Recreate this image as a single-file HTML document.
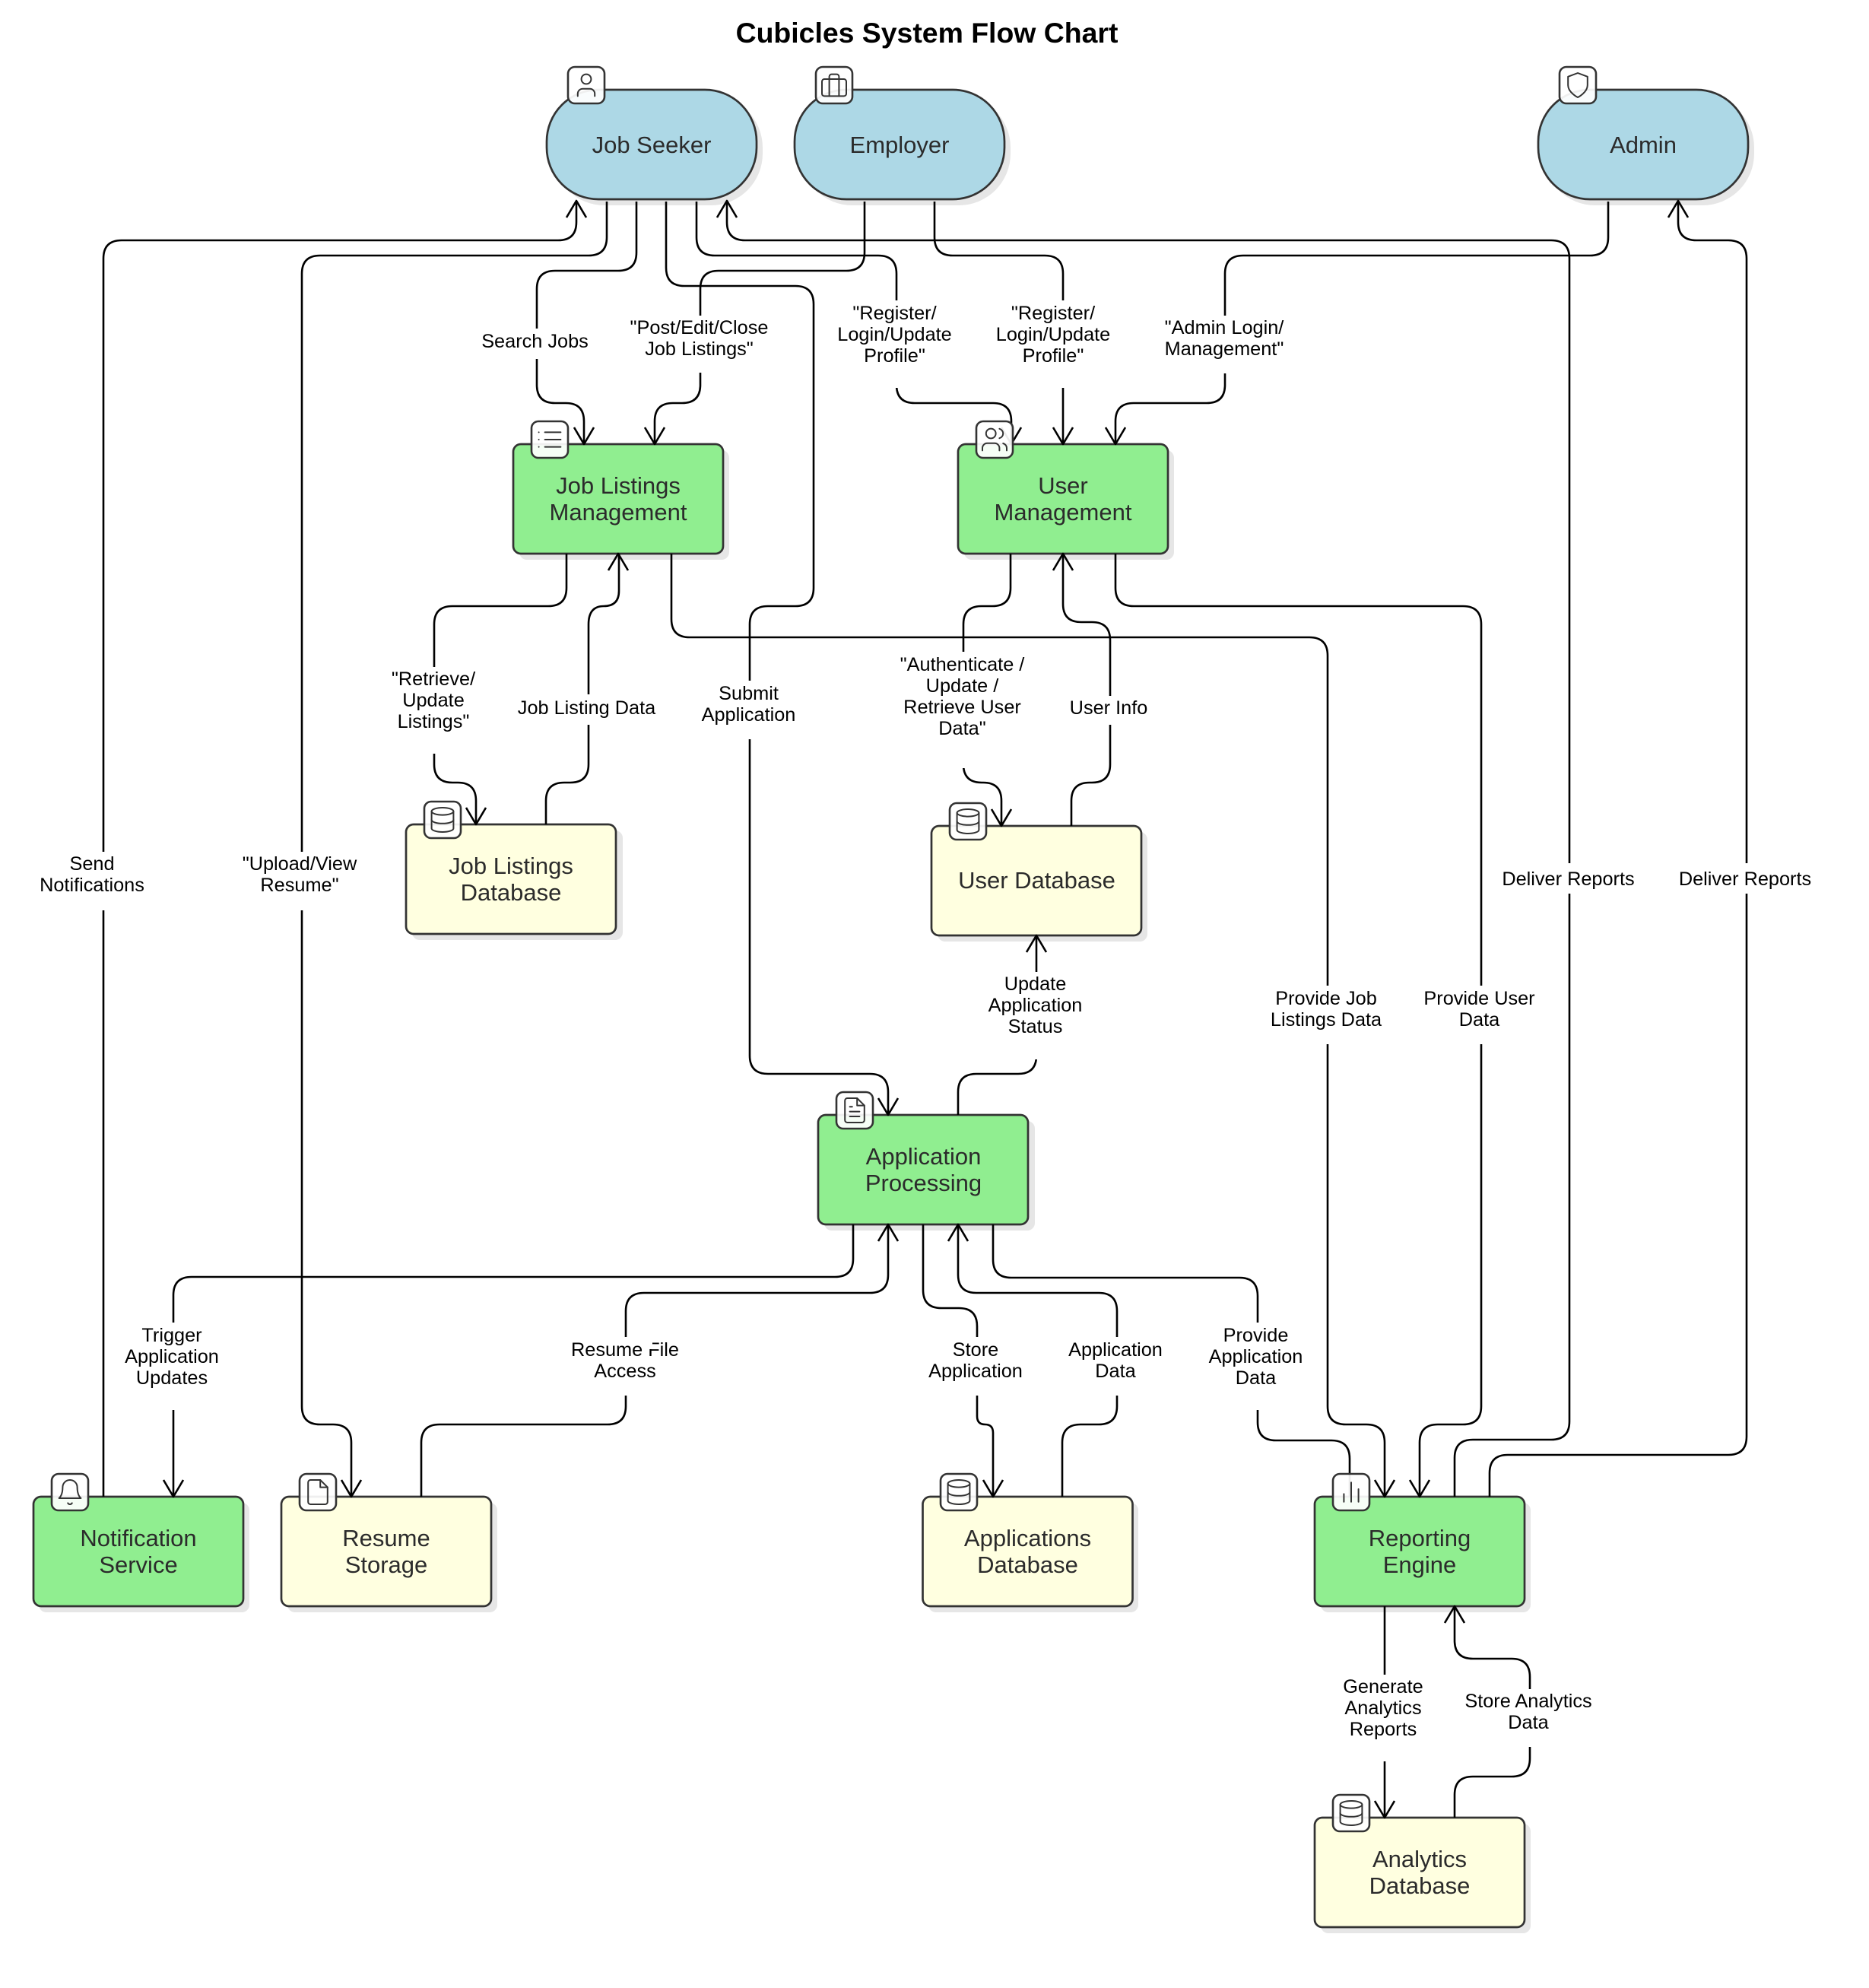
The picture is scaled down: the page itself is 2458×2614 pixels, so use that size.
<!DOCTYPE html>
<html lang="en"><head><meta charset="utf-8"><title>Cubicles System Flow Chart</title>
<style>html,body{margin:0;padding:0;background:#fff}svg{display:block}
.e{fill:none;stroke:#000;stroke-width:2.6;stroke-linejoin:round}
.sh{fill:#e6e6e6}.n{stroke:#333;stroke-width:2.7}.b{fill:#90EE90}.y{fill:#FFFFE0}.a{fill:#ADD8E6}
.nt{font:31px "Liberation Sans",sans-serif;fill:#2b2b2b;text-anchor:middle}
.l{font:25.300px "Liberation Sans",sans-serif;fill:#000;text-anchor:middle}
.ib{fill:#fff;fill-opacity:.92;stroke:#333;stroke-width:2.6}
.i{fill:none;stroke:#333;stroke-width:1.25;stroke-linecap:round;stroke-linejoin:round}
</style></head><body>
<svg xmlns="http://www.w3.org/2000/svg" width="2458" height="2614" viewBox="0 0 2458 2614">
<defs>
<path id="ad" class="e" d="M-13,-22L0,0L13,-22"/>
<path id="au" class="e" d="M-13,22L0,0L13,22"/>
<g id="user" class="i"><path d="M19 21v-2a4 4 0 0 0-4-4H9a4 4 0 0 0-4 4v2"/><circle cx="12" cy="7" r="4"/></g>
<g id="brief" class="i"><rect x="2" y="7" width="20" height="14" rx="2"/><path d="M16 21V5a2 2 0 0 0-2-2h-4a2 2 0 0 0-2 2v16"/></g>
<g id="shield" class="i"><path d="M12 22s8-4 8-10V5l-8-3-8 3v7c0 6 8 10 8 10z"/></g>
<g id="list" class="i"><path d="M8 6h13M8 12h13M8 18h13M3 6h.01M3 12h.01M3 18h.01"/></g>
<g id="users" class="i"><path d="M16 21v-2a4 4 0 0 0-4-4H6a4 4 0 0 0-4 4v2"/><circle cx="9" cy="7" r="4"/><path d="M22 21v-2a4 4 0 0 0-3-3.87M16 3.13a4 4 0 0 1 0 7.75"/></g>
<g id="db" class="i"><ellipse cx="12" cy="5" rx="9" ry="3"/><path d="M3 5v14c0 1.66 4 3 9 3s9-1.34 9-3V5"/><path d="M3 12c0 1.66 4 3 9 3s9-1.34 9-3"/></g>
<g id="ftext" class="i"><path d="M14 2H6a2 2 0 0 0-2 2v16a2 2 0 0 0 2 2h12a2 2 0 0 0 2-2V8z"/><path d="M14 2v6h6M16 13H8M16 17H8M10 9H8"/></g>
<g id="file" class="i"><path d="M14 2H6a2 2 0 0 0-2 2v16a2 2 0 0 0 2 2h12a2 2 0 0 0 2-2V8z"/><path d="M14 2v6h6"/></g>
<g id="bell" class="i"><path d="M18 8A6 6 0 0 0 6 8c0 7-3 9-3 9h18s-3-2-3-9"/><path d="M13.73 21a2 2 0 0 1-3.46 0"/></g>
<g id="bars" class="i"><path d="M6 20v-6.5M12 20V4M18 20V9.500"/></g>
</defs>
<rect width="2458" height="2614" fill="#fff"/>
<text x="1219" y="56" text-anchor="middle" style="font:bold 37.400px 'Liberation Sans',sans-serif;fill:#000">Cubicles System Flow Chart</text>

<!-- shadows -->
<g class="sh">
<rect x="727" y="126" width="276" height="144" rx="68"/>
<rect x="1053" y="126" width="276" height="144" rx="68"/>
<rect x="2030" y="126" width="277" height="144" rx="68"/>
<rect x="683" y="592" width="276" height="144" rx="10"/>
<rect x="1268" y="592" width="276" height="144" rx="10"/>
<rect x="542" y="1092" width="277" height="144" rx="10"/>
<rect x="1233" y="1094" width="276" height="144" rx="10"/>
<rect x="1084" y="1474" width="277" height="144" rx="10"/>
<rect x="51" y="1976" width="277" height="144" rx="10"/>
<rect x="378" y="1976" width="276" height="144" rx="10"/>
<rect x="1221" y="1976" width="276" height="144" rx="10"/>
<rect x="1737" y="1976" width="276" height="144" rx="10"/>
<rect x="1737" y="2398" width="276" height="144" rx="10"/>
</g>
<!-- nodes -->
<g class="n">
<rect class="a" x="719" y="118" width="276" height="144" rx="68"/>
<rect class="a" x="1045" y="118" width="276" height="144" rx="68"/>
<rect class="a" x="2023" y="118" width="276" height="144" rx="68"/>
<rect class="b" x="675" y="584" width="276" height="144" rx="10"/>
<rect class="b" x="1260" y="584" width="276" height="144" rx="10"/>
<rect class="y" x="534" y="1084" width="276" height="144" rx="10"/>
<rect class="y" x="1225" y="1086" width="276" height="144" rx="10"/>
<rect class="b" x="1076" y="1466" width="276" height="144" rx="10"/>
<rect class="b" x="44" y="1968" width="276" height="144" rx="10"/>
<rect class="y" x="370" y="1968" width="276" height="144" rx="10"/>
<rect class="y" x="1213.500" y="1968" width="276" height="144" rx="10"/>
<rect class="b" x="1729" y="1968" width="276" height="144" rx="10"/>
<rect class="y" x="1729" y="2390" width="276" height="144" rx="10"/>
</g>

<!-- edges -->
<g class="e">
<path d="M136,1968V340Q136,316 160,316H734Q758,316 758,292V265"/>
<path d="M798,265V312Q798,336 774,336H421Q397,336 397,360V1849Q397,1873 421,1873H438Q462,1873 462,1897V1968"/>
<path d="M837,265V332Q837,356 813,356H730Q706,356 706,380V506Q706,530 730,530H744Q768,530 768,554V584"/>
<path d="M876,265V352Q876,376 900,376H1046Q1070,376 1070,400V773Q1070,797 1046,797H1010Q986,797 986,821V1388Q986,1412 1010,1412H1144Q1168,1412 1168,1436V1466"/>
<path d="M916,265V312Q916,336 940,336H1155Q1179,336 1179,360V506Q1179,530 1203,530H1306Q1330,530 1330,554V584"/>
<path d="M1913,1968V1917Q1913,1893 1937,1893H2040Q2064,1893 2064,1869V340Q2064,316 2040,316H980Q956,316 956,292V265"/>
<path d="M1137,265V332Q1137,356 1113,356H945Q921,356 921,380V506Q921,530 897,530H885Q861,530 861,554V584"/>
<path d="M1229,265V312Q1229,336 1253,336H1374Q1398,336 1398,360V584"/>
<path d="M2115,265V312Q2115,336 2091,336H1635Q1611,336 1611,360V506Q1611,530 1587,530H1491Q1467,530 1467,554V584"/>
<path d="M745,728V773Q745,797 721,797H595Q571,797 571,821V1005Q571,1029 595,1029H602Q626,1029 626,1053V1084"/>
<path d="M718,1084V1053Q718,1029 742,1029H750Q774,1029 774,1005V821Q774,797 794,797Q814,797 814,777V728"/>
<path d="M883,728V814Q883,838 907,838H1722Q1746,838 1746,862V1849Q1746,1873 1770,1873H1797Q1821,1873 1821,1897V1968"/>
<path d="M1329,728V773Q1329,797 1305,797H1291Q1267,797 1267,821V1005Q1267,1029 1291,1029H1293Q1317,1029 1317,1053V1086"/>
<path d="M1409,1086V1053Q1409,1029 1433,1029H1436Q1460,1029 1460,1005V842Q1460,818 1436,818H1422Q1398,818 1398,794V728"/>
<path d="M1467,728V773Q1467,797 1491,797H1924Q1948,797 1948,821V1849Q1948,1873 1924,1873H1891Q1867,1873 1867,1897V1968"/>
<path d="M1260,1466V1436Q1260,1412 1284,1412H1339Q1363,1412 1363,1388V1230"/>
<path d="M1122,1610V1655Q1122,1679 1098,1679H252Q228,1679 228,1703V1968"/>
<path d="M554,1968V1897Q554,1873 578,1873H799Q823,1873 823,1849V1724Q823,1700 847,1700H1144Q1168,1700 1168,1676V1610"/>
<path d="M1214,1610V1696Q1214,1720 1238,1720H1261Q1285,1720 1285,1744V1862Q1285,1873 1295.500,1873Q1306,1873 1306,1884V1968"/>
<path d="M1397,1968V1897Q1397,1873 1421,1873H1445Q1469,1873 1469,1849V1724Q1469,1700 1445,1700H1284Q1260,1700 1260,1676V1610"/>
<path d="M1306,1610V1656Q1306,1680 1330,1680H1630Q1654,1680 1654,1704V1870Q1654,1894 1678,1894H1751Q1775,1894 1775,1918V1968"/>
<path d="M1959,1968V1937Q1959,1913 1983,1913H2273Q2297,1913 2297,1889V340Q2297,316 2273,316H2231Q2207,316 2207,292V265"/>
<path d="M1821,2112V2390"/>
<path d="M1913,2390V2360Q1913,2336 1937,2336H1988Q2012,2336 2012,2312V2205Q2012,2181 1988,2181H1937Q1913,2181 1913,2157V2112"/>
</g>
<!-- arrowheads -->
<use href="#ad" x="768" y="584"/><use href="#ad" x="861" y="584"/><use href="#ad" x="1330" y="584"/><use href="#ad" x="1398" y="584"/><use href="#ad" x="1467" y="584"/>
<use href="#ad" x="626" y="1084"/><use href="#ad" x="1317" y="1086"/><use href="#ad" x="1168" y="1466"/>
<use href="#ad" x="228" y="1968"/><use href="#ad" x="462" y="1968"/><use href="#ad" x="1306" y="1968"/><use href="#ad" x="1821" y="1968"/><use href="#ad" x="1867" y="1968"/><use href="#ad" x="1821" y="2390"/>
<use href="#au" x="758" y="264"/><use href="#au" x="956" y="264"/><use href="#au" x="2207" y="264"/><use href="#au" x="813" y="728"/><use href="#au" x="1398" y="728"/><use href="#au" x="1363" y="1230"/><use href="#au" x="1168" y="1610"/><use href="#au" x="1260" y="1610"/><use href="#au" x="1913" y="2112"/>

<!-- label gaps -->
<g fill="#fff">
<rect x="121" y="1120" width="30" height="77"/><rect x="382" y="1120" width="30" height="77"/>
<rect x="691" y="432" width="30" height="40"/><rect x="906" y="415" width="30" height="75"/>
<rect x="1164" y="395" width="30" height="115"/><rect x="1383" y="395" width="30" height="115"/>
<rect x="1596" y="415" width="30" height="76"/><rect x="556" y="877" width="30" height="114"/>
<rect x="759" y="913" width="30" height="40"/><rect x="971" y="895" width="30" height="77"/>
<rect x="1252" y="857" width="30" height="153"/><rect x="1445" y="915" width="30" height="38"/>
<rect x="1348" y="1278" width="30" height="115"/><rect x="2049" y="1135" width="30" height="40"/>
<rect x="2282" y="1135" width="30" height="40"/><rect x="1731" y="1296" width="30" height="77"/>
<rect x="1933" y="1296" width="30" height="77"/><rect x="213" y="1739" width="30" height="115"/>
<rect x="808" y="1758" width="30" height="77"/><rect x="1270" y="1758" width="30" height="77"/>
<rect x="1454" y="1758" width="30" height="77"/><rect x="1639" y="1739" width="30" height="115"/>
<rect x="1806" y="2202" width="30" height="114"/><rect x="1997" y="2221" width="30" height="76"/>
</g>

<!-- icon boxes -->
<g>
<rect class="ib" x="747" y="88" width="48" height="48" rx="9"/><use href="#user" transform="translate(751.800,92.800) scale(1.6)"/>
<rect class="ib" x="1073" y="88" width="48" height="48" rx="9"/><use href="#brief" transform="translate(1077.800,92.800) scale(1.6)"/>
<rect class="ib" x="2051" y="88" width="48" height="48" rx="9"/><use href="#shield" transform="translate(2055.800,92.800) scale(1.6)"/>
<rect class="ib" x="699" y="554" width="48" height="48" rx="9"/><use href="#list" transform="translate(703.800,558.800) scale(1.6)"/>
<rect class="ib" x="1284" y="554" width="48" height="48" rx="9"/><use href="#users" transform="translate(1288.800,558.800) scale(1.6)"/>
<rect class="ib" x="558" y="1054" width="48" height="48" rx="9"/><use href="#db" transform="translate(562.800,1058.800) scale(1.6)"/>
<rect class="ib" x="1249" y="1056" width="48" height="48" rx="9"/><use href="#db" transform="translate(1253.800,1060.800) scale(1.6)"/>
<rect class="ib" x="1100" y="1436" width="48" height="48" rx="9"/><use href="#ftext" transform="translate(1104.800,1440.800) scale(1.6)"/>
<rect class="ib" x="68" y="1938" width="48" height="48" rx="9"/><use href="#bell" transform="translate(72.800,1942.800) scale(1.6)"/>
<rect class="ib" x="394" y="1938" width="48" height="48" rx="9"/><use href="#file" transform="translate(398.800,1942.800) scale(1.6)"/>
<rect class="ib" x="1237" y="1938" width="48" height="48" rx="9"/><use href="#db" transform="translate(1241.800,1942.800) scale(1.6)"/>
<rect class="ib" x="1753" y="1938" width="48" height="48" rx="9"/><use href="#bars" transform="translate(1757.800,1942.800) scale(1.6)"/>
<rect class="ib" x="1753" y="2360" width="48" height="48" rx="9"/><use href="#db" transform="translate(1757.800,2364.800) scale(1.6)"/>
</g>

<!-- node labels -->
<text class="nt" x="857" y="201">Job Seeker</text>
<text class="nt" x="1183" y="201">Employer</text>
<text class="nt" x="2161" y="201">Admin</text>
<text class="nt" x="813" y="649">Job Listings</text><text class="nt" x="813" y="684">Management</text>
<text class="nt" x="1398" y="649">User</text><text class="nt" x="1398" y="684">Management</text>
<text class="nt" x="672" y="1149">Job Listings</text><text class="nt" x="672" y="1184">Database</text>
<text class="nt" x="1363.500" y="1168">User Database</text>
<text class="nt" x="1214.500" y="1531">Application</text><text class="nt" x="1214.500" y="1566">Processing</text>
<text class="nt" x="182" y="2033">Notification</text><text class="nt" x="182" y="2068">Service</text>
<text class="nt" x="508" y="2033">Resume</text><text class="nt" x="508" y="2068">Storage</text>
<text class="nt" x="1351.500" y="2033">Applications</text><text class="nt" x="1351.500" y="2068">Database</text>
<text class="nt" x="1867" y="2033">Reporting</text><text class="nt" x="1867" y="2068">Engine</text>
<text class="nt" x="1867" y="2455">Analytics</text><text class="nt" x="1867" y="2490">Database</text>

<!-- edge labels -->
<text class="l" x="121" y="1144">Send</text><text class="l" x="121" y="1172">Notifications</text>
<text class="l" x="394" y="1144">"Upload/View</text><text class="l" x="394" y="1172">Resume"</text>
<text class="l" x="703.500" y="457">Search Jobs</text>
<text class="l" x="919.500" y="439">"Post/Edit/Close</text><text class="l" x="919.500" y="467">Job Listings"</text>
<text class="l" x="1176.500" y="420">"Register/</text><text class="l" x="1176.500" y="448">Login/Update</text><text class="l" x="1176.500" y="476">Profile"</text>
<text class="l" x="1385" y="420">"Register/</text><text class="l" x="1385" y="448">Login/Update</text><text class="l" x="1385" y="476">Profile"</text>
<text class="l" x="1610" y="439">"Admin Login/</text><text class="l" x="1610" y="467">Management"</text>
<text class="l" x="570" y="901">"Retrieve/</text><text class="l" x="570" y="929">Update</text><text class="l" x="570" y="957">Listings"</text>
<text class="l" x="771.500" y="939">Job Listing Data</text>
<text class="l" x="984.500" y="920">Submit</text><text class="l" x="984.500" y="948">Application</text>
<text class="l" x="1265.500" y="882">"Authenticate /</text><text class="l" x="1265.500" y="910">Update /</text><text class="l" x="1265.500" y="938">Retrieve User</text><text class="l" x="1265.500" y="966">Data"</text>
<text class="l" x="1458" y="939">User Info</text>
<text class="l" x="1361.500" y="1302">Update</text><text class="l" x="1361.500" y="1330">Application</text><text class="l" x="1361.500" y="1358">Status</text>
<text class="l" x="2062.500" y="1164">Deliver Reports</text>
<text class="l" x="2295" y="1164">Deliver Reports</text>
<text class="l" x="1744" y="1321">Provide Job</text><text class="l" x="1744" y="1349">Listings Data</text>
<text class="l" x="1945.500" y="1321">Provide User</text><text class="l" x="1945.500" y="1349">Data</text>
<text class="l" x="226" y="1764">Trigger</text><text class="l" x="226" y="1792">Application</text><text class="l" x="226" y="1820">Updates</text>
<text class="l" x="822" y="1783">Resume File</text><text class="l" x="822" y="1811">Access</text>
<text class="l" x="1283" y="1783">Store</text><text class="l" x="1283" y="1811">Application</text>
<text class="l" x="1467" y="1783">Application</text><text class="l" x="1467" y="1811">Data</text>
<text class="l" x="1651.500" y="1764">Provide</text><text class="l" x="1651.500" y="1792">Application</text><text class="l" x="1651.500" y="1820">Data</text>
<text class="l" x="1819" y="2226">Generate</text><text class="l" x="1819" y="2254">Analytics</text><text class="l" x="1819" y="2282">Reports</text>
<text class="l" x="2010" y="2245">Store Analytics</text><text class="l" x="2010" y="2273">Data</text>
<rect x="853" y="1765" width="5" height="9" fill="#fff"/>
</svg>
</body></html>
